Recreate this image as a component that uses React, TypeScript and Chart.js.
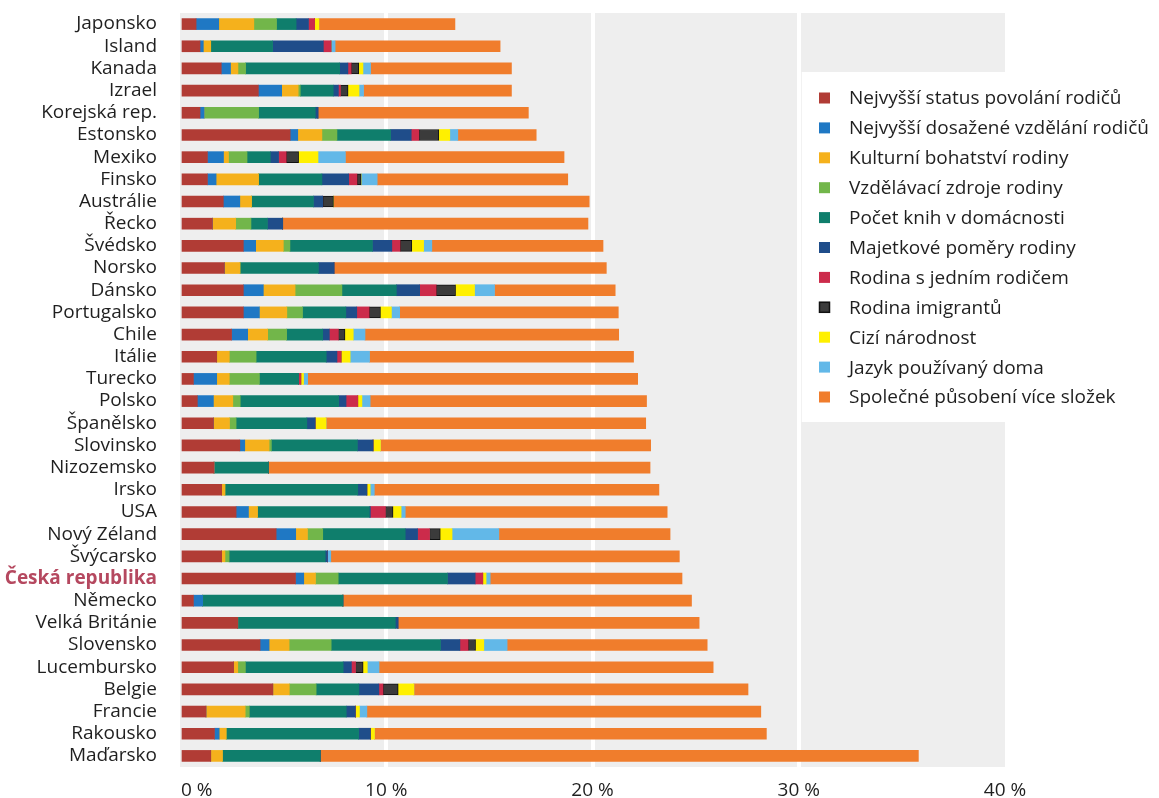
import React, { useEffect, useRef } from 'react';
import { Chart, registerables } from 'chart.js';

Chart.register(...registerables);

const countries = [
  'Japonsko', 'Island', 'Kanada', 'Izrael', 'Korejská rep.', 'Estonsko', 'Mexiko', 'Finsko',
  'Austrálie', 'Řecko', 'Švédsko', 'Norsko', 'Dánsko', 'Portugalsko', 'Chile', 'Itálie',
  'Turecko', 'Polsko', 'Španělsko', 'Slovinsko', 'Nizozemsko', 'Irsko', 'USA', 'Nový Zéland',
  'Švýcarsko', 'Česká republika', 'Německo', 'Velká Británie', 'Slovensko', 'Lucembursko',
  'Belgie', 'Francie', 'Rakousko', 'Maďarsko',
];

const highlighted = 'Česká republika';

const xTicks = [0, 10, 20, 30, 40];

const seriesLabels = [
  'Nejvyšší status povolání rodičů',
  'Nejvyšší dosažené vzdělání rodičů',
  'Kulturní bohatství rodiny',
  'Vzdělávací zdroje rodiny',
  'Počet knih v domácnosti',
  'Majetkové poměry rodiny',
  'Rodina s jedním rodičem',
  'Rodina imigrantů',
  'Cizí národnost',
  'Jazyk používaný doma',
  'Společné působení více složek',
];

const seriesColors = [
  '#b13c35', '#1f78c4', '#f5b11c', '#72b64a', '#0f7e6c', '#1f4d8a',
  '#cc2b4b', '#3b3b3b', '#fff000', '#62b8e8', '#f07d2c',
];

const occupationStatus = [0.78, 0.97, 2.0, 3.8, 0.97, 5.34, 1.33, 1.33, 2.1, 1.57, 3.07, 2.15, 3.07, 3.07, 2.5, 1.78, 0.65, 0.84, 1.62, 2.9, 1.65, 2.02, 2.72, 4.66, 2.02, 5.6, 0.65, 2.8, 3.88, 2.6, 4.5, 1.26, 1.67, 1.49];
const parentEducation = [1.1, 0.16, 0.45, 1.13, 0.2, 0.37, 0.78, 0.42, 0.8, 0, 0.6, 0, 0.97, 0.78, 0.78, 0, 1.13, 0.78, 0, 0.24, 0, 0, 0.6, 0.95, 0, 0.4, 0.45, 0, 0.44, 0, 0, 0, 0.23, 0];
const culturalWealth = [1.7, 0.36, 0.36, 0.8, 0, 1.17, 0.24, 2.06, 0.57, 1.13, 1.34, 0.76, 1.54, 1.33, 0.97, 0.61, 0.61, 0.94, 0.78, 1.18, 0, 0.16, 0.44, 0.57, 0.16, 0.57, 0, 0, 0.97, 0.2, 0.8, 1.9, 0.34, 0.57];
const educationResources = [1.1, 0, 0.37, 0.1, 2.64, 0.73, 0.9, 0, 0, 0.74, 0.32, 0, 2.27, 0.76, 0.92, 1.3, 1.46, 0.36, 0.32, 0.11, 0, 0, 0, 0.74, 0.2, 1.1, 0, 0, 2.04, 0.37, 1.3, 0.2, 0, 0];
const booksAtHome = [0.95, 3.0, 4.56, 1.6, 2.75, 2.6, 1.13, 3.07, 3.0, 0.8, 4.0, 3.8, 2.64, 2.1, 1.75, 3.4, 1.9, 4.77, 3.43, 4.17, 2.64, 6.44, 5.42, 4.0, 4.66, 5.3, 6.8, 7.64, 5.3, 4.74, 2.07, 4.7, 6.42, 4.74];
const familyWealth = [0.6, 2.46, 0.4, 0.25, 0.13, 1.0, 0.4, 1.3, 0.45, 0.74, 0.94, 0.76, 1.13, 0.53, 0.32, 0.52, 0, 0.36, 0.4, 0.76, 0, 0.44, 0.05, 0.6, 0.11, 1.34, 0, 0.13, 0.94, 0.4, 0.97, 0.44, 0.57, 0];
const singleParent = [0.3, 0.37, 0.16, 0.1, 0, 0.37, 0.37, 0.4, 0, 0, 0.4, 0, 0.8, 0.6, 0.44, 0.2, 0.11, 0.57, 0, 0, 0, 0, 0.73, 0.58, 0, 0.37, 0, 0, 0.4, 0.2, 0.2, 0, 0, 0];
const immigrantFamily = [0, 0, 0.37, 0.37, 0, 0.97, 0.6, 0.2, 0.52, 0, 0.57, 0, 0.94, 0.55, 0.32, 0, 0, 0, 0, 0, 0, 0, 0.37, 0.52, 0, 0, 0, 0, 0.36, 0.37, 0.74, 0, 0, 0];
const foreignNationality = [0.2, 0, 0.2, 0.53, 0, 0.53, 0.94, 0, 0, 0, 0.57, 0, 0.92, 0.53, 0.4, 0.44, 0.13, 0.2, 0.53, 0.36, 0, 0.16, 0.39, 0.57, 0, 0.16, 0, 0, 0.4, 0.2, 0.76, 0.2, 0.2, 0];
const homeLanguage = [0, 0.2, 0.37, 0.22, 0, 0.39, 1.33, 0.78, 0, 0, 0.4, 0, 0.97, 0.4, 0.57, 0.94, 0.2, 0.4, 0, 0, 0, 0.2, 0.2, 2.27, 0.16, 0.2, 0, 0, 1.13, 0.57, 0, 0.36, 0, 0];
const combinedEffect = [6.6, 8.0, 6.83, 7.17, 10.2, 3.8, 10.6, 9.24, 12.4, 14.8, 8.3, 13.2, 5.85, 10.6, 12.3, 12.8, 16.0, 13.4, 15.5, 13.1, 18.5, 13.8, 12.7, 8.3, 16.9, 9.3, 16.9, 14.6, 9.7, 16.2, 16.2, 19.1, 19.0, 29.0];

const seriesValues = [
  occupationStatus, parentEducation, culturalWealth, educationResources, booksAtHome,
  familyWealth, singleParent, immigrantFamily, foreignNationality, homeLanguage, combinedEffect,
];

const FONT = '"Open Sans", "DejaVu Sans", sans-serif';

export default function App() {
  const ref = useRef<HTMLCanvasElement>(null);

  useEffect(() => {
    document.body.style.margin = '0';
    if (!ref.current) return;

    const plotBg = {
      id: 'plotBg',
      beforeDraw(chart: any) {
        const { ctx, chartArea: a } = chart;
        ctx.save();
        ctx.fillStyle = '#eeeeee';
        ctx.fillRect(a.left, a.top, a.right - a.left, a.bottom - a.top);
        ctx.restore();
      },
    };

    const boxLegend = {
      id: 'boxLegend',
      afterDraw(chart: any) {
        const { ctx } = chart;
        const xs = chart.scales.x;
        const boxLeft = xs.getPixelForValue(30) + 3;
        ctx.save();
        ctx.fillStyle = '#ffffff';
        ctx.fillRect(boxLeft, 72, chart.width - boxLeft, 350);
        ctx.font = `19px ${FONT}`;
        ctx.textBaseline = 'middle';
        chart.data.datasets.forEach((ds: any, i: number) => {
          const cy = 98 + i * 29.9;
          ctx.fillStyle = ds.backgroundColor;
          ctx.fillRect(819, cy - 5.5, 11, 11);
          if (ds.label === 'Rodina imigrantů') {
            ctx.strokeStyle = '#111';
            ctx.lineWidth = 1.5;
            ctx.strokeRect(819.5, cy - 5, 10, 10);
          }
          ctx.fillStyle = '#1f1f1f';
          ctx.fillText(ds.label, 849, cy + 1);
        });
        ctx.restore();
      },
    };

    const chart = new Chart(ref.current, {
      type: 'bar',
      data: {
        labels: countries,
        datasets: seriesLabels.map((label, i) => ({
          label,
          data: seriesValues[i],
          backgroundColor: seriesColors[i],
          borderColor: '#111111',
          borderWidth: i === 7 ? (c: any) => (c.raw > 0 ? 1 : 0) : 0,
          borderSkipped: false,
          barThickness: 11,
        })),
      },
      options: {
        indexAxis: 'y',
        animation: false,
        responsive: true,
        maintainAspectRatio: false,
        layout: { autoPadding: false, padding: { top: 13, right: 154, left: 0, bottom: 0 } },
        plugins: {
          legend: { display: false },
          tooltip: { enabled: false },
        },
        scales: {
          x: {
            stacked: true,
            min: 0,
            max: 40,
            afterBuildTicks: (scale: any) => {
              scale.ticks = xTicks.map((v) => ({ value: v }));
            },
            afterFit: (scale: any) => {
              scale.height = 31;
              scale.paddingTop = 0;
              scale.paddingBottom = 0;
            },
            grid: {
              color: (c: any) =>
                c.tick && c.tick.value > 0 && c.tick.value < 40 ? '#ffffff' : 'rgba(0,0,0,0)',
              lineWidth: 4,
              drawTicks: false,
            },
            border: { display: false },
            ticks: {
              padding: 12,
              color: '#1f1f1f',
              font: { family: FONT, size: 19 },
              callback: (v: any) => (v === 0 ? '\u2002\u2002\u2002 0 %' : `${v} %`),
              maxRotation: 0,
            },
          },
          y: {
            stacked: true,
            afterFit: (scale: any) => {
              scale.width = 180;
              scale.paddingTop = 0;
              scale.paddingBottom = 0;
            },
            grid: { display: false, drawTicks: false },
            border: { display: false },
            ticks: {
              padding: 23,
              autoSkip: false,
              color: (c: any) => (countries[c.index] === highlighted ? '#b5485f' : '#1f1f1f'),
              font: (c: any) => ({
                family: FONT,
                size: 19,
                weight: countries[c.index] === highlighted ? 'bold' : 'normal',
              }),
            },
          },
        },
      },
      plugins: [plotBg, boxLegend],
    });

    return () => chart.destroy();
  }, []);

  return (
    <div style={{ position: 'absolute', left: 0, top: 0, width: 1159, height: 798 }}>
      <canvas ref={ref} />
    </div>
  );
}
